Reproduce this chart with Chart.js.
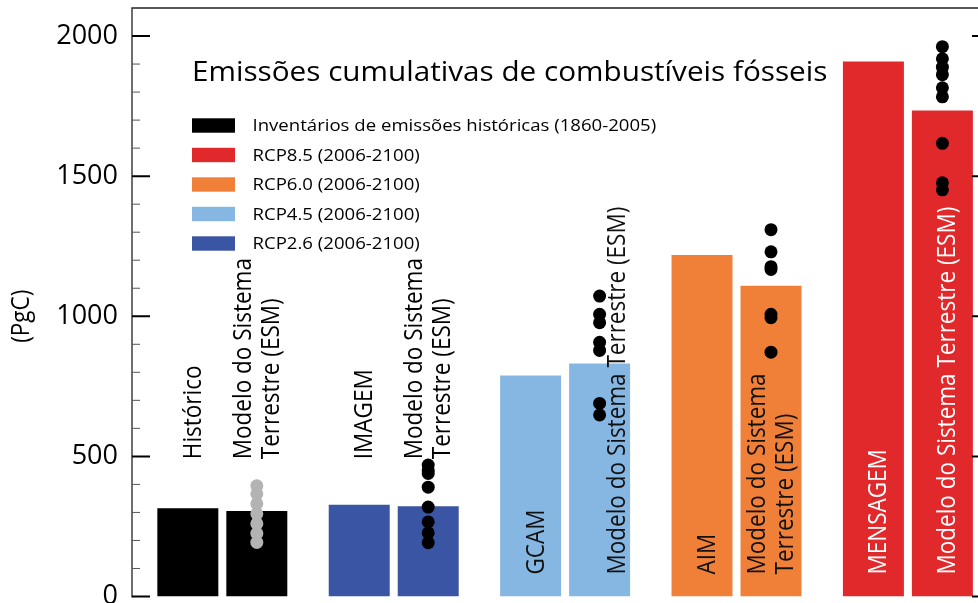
<!DOCTYPE html>
<html lang="pt">
<head>
<meta charset="utf-8">
<title>Emissões cumulativas de combustíveis fósseis</title>
<script src="https://cdn.jsdelivr.net/npm/chart.js@4/dist/chart.umd.min.js"></script>
<style>
  html, body { margin: 0; padding: 0; background: #ffffff; overflow: hidden; }
  #wrap { position: relative; width: 1000px; height: 603px; }
</style>
</head>
<body>
<div id="wrap"><canvas id="chart"></canvas></div>
<script>
// ---- data (PgC) ----
const groups = ['Histórico', 'IMAGEM', 'GCAM', 'AIM', 'MENSAGEM'];
const esmLabel = 'Modelo do Sistema Terrestre (ESM)';
const scenarioTotals = [315, 327, 789, 1219, 1909];
const esmTotals = [305, 322, 831, 1109, 1734];

// individual Earth System Model results
const esmRunsHistorico = [395, 366, 331, 295, 260, 225, 193];
const esmRunsRcp26 = [469, 450, 439, 390, 319, 266, 227, 192];
const esmRunsRcp45 = [1072, 1007, 977, 907, 878, 689, 648];
const esmRunsRcp60 = [1309, 1230, 1177, 1167, 1007, 995, 872];
const esmRunsRcp85 = [1962, 1919, 1889, 1862, 1815, 1783, 1617, 1476, 1451];
const esmRuns = [esmRunsHistorico, esmRunsRcp26, esmRunsRcp45, esmRunsRcp60, esmRunsRcp85];

const legendLabels = [
  'Inventários de emissões históricas (1860-2005)',
  'RCP8.5 (2006-2100)',
  'RCP6.0 (2006-2100)',
  'RCP4.5 (2006-2100)',
  'RCP2.6 (2006-2100)'
];
const yMajorTicks = [0, 500, 1000, 1500, 2000];

// ---- styling ----
const COL_HIST = '#000000';
const COL_85 = '#E1282B';
const COL_60 = '#F08038';
const COL_45 = '#86B7E2';
const COL_26 = '#3A55A4';
const groupColors = [COL_HIST, COL_26, COL_45, COL_60, COL_85];
const legendColors = [COL_HIST, COL_85, COL_60, COL_45, COL_26];
const dotColors = ['#B3B3B3', '#000000', '#000000', '#000000', '#000000'];

const FONT = '"Open Sans", "Noto Sans", sans-serif';
const Y_MAX = 2100;
const MINOR_STEP = 100;
const X_MIN = -0.527, X_MAX = 4.479;
const CAT_PCT = 0.805, BAR_PCT = 0.884;
const LABEL_FLOOR = 490;       // value where labels above the short bars begin
const TEXT_SX = 1.12;          // horizontal stretch of annotation lettering

const twoLineEsm = ['Modelo do Sistema', 'Terrestre (ESM)'];
const barLabels = [
  { ds: 0, i: 0, lines: [groups[0]], place: 'above', color: '#000' },
  { ds: 1, i: 0, lines: twoLineEsm, place: 'above', color: '#000' },
  { ds: 0, i: 1, lines: [groups[1]], place: 'above', color: '#000' },
  { ds: 1, i: 1, lines: twoLineEsm, place: 'above', color: '#000' },
  { ds: 0, i: 2, lines: [groups[2]], place: 'inside', color: '#111' },
  { ds: 1, i: 2, lines: [esmLabel], place: 'inside', color: '#111', shift: 25 },
  { ds: 0, i: 3, lines: [groups[3]], place: 'inside', color: '#111' },
  { ds: 1, i: 3, lines: twoLineEsm, place: 'inside', color: '#111' },
  { ds: 0, i: 4, lines: [groups[4]], place: 'inside', color: '#fff' },
  { ds: 1, i: 4, lines: [esmLabel], place: 'inside', color: '#fff' }
];

// text drawn with a slight horizontal stretch, optionally rotated to read upward
function drawText(ctx, text, x, y, font, color, opts = {}) {
  ctx.save();
  ctx.translate(x, y);
  ctx.scale(opts.sx || TEXT_SX, 1);
  if (opts.rotate) ctx.rotate(-Math.PI / 2);
  ctx.font = font;
  ctx.fillStyle = color;
  ctx.textAlign = opts.align || 'left';
  ctx.textBaseline = opts.baseline || 'alphabetic';
  ctx.fillText(text, 0, 0);
  ctx.restore();
}

// frame with inward ticks on left and right, plus top edge
const frameTicks = {
  id: 'frameTicks',
  afterDraw(chart) {
    const { ctx, chartArea: a, scales: { y } } = chart;
    ctx.save();
    ctx.strokeStyle = '#222';
    ctx.lineWidth = 1.3;
    ctx.beginPath();
    ctx.moveTo(a.left, a.bottom + 1);
    ctx.lineTo(a.left, a.top);
    ctx.lineTo(a.right, a.top);
    ctx.lineTo(a.right, a.bottom + 1);
    ctx.stroke();
    for (let v = 0; v <= 2000; v += MINOR_STEP) {
      const major = yMajorTicks.includes(v);
      const len = major ? 18 : 8;
      const py = y.getPixelForValue(v);
      ctx.lineWidth = major ? 2 : 1;
      ctx.strokeStyle = major ? '#000' : '#555';
      ctx.beginPath();
      ctx.moveTo(a.left, py); ctx.lineTo(a.left + len, py);
      ctx.moveTo(a.right, py); ctx.lineTo(a.right - len, py);
      ctx.stroke();
    }
    ctx.restore();
  }
};

// title, legend, axis title and bar labels
const annotations = {
  id: 'annotations',
  afterDatasetsDraw(chart) {
    const { ctx, chartArea: a, scales: { y } } = chart;
    const labelFont = '22.5px ' + FONT;

    barLabels.forEach(l => {
      const bar = chart.getDatasetMeta(l.ds).data[l.i];
      const startY = l.place === 'above' ? y.getPixelForValue(LABEL_FLOOR) : a.bottom - 22;
      if (l.lines.length === 1) {
        drawText(ctx, l.lines[0], bar.x + (l.shift || 13), startY, labelFont, l.color, { rotate: true });
      } else {
        drawText(ctx, l.lines[0], bar.x - 6, startY, labelFont, l.color, { rotate: true });
        drawText(ctx, l.lines[1], bar.x + 22, startY, labelFont, l.color, { rotate: true });
      }
    });

    // title
    drawText(ctx, 'Emissões cumulativas de combustíveis fósseis', a.left + 60, 80.5,
      '28px ' + FONT, '#000', { sx: 1.06 });

    // legend
    legendLabels.forEach((txt, k) => {
      const cy = 125.5 + k * 29.5;
      ctx.fillStyle = legendColors[k];
      ctx.fillRect(a.left + 60, cy - 7.2, 43, 14.4);
      drawText(ctx, txt, a.left + 120.5, cy + 1, '16.6px ' + FONT, '#000', { baseline: 'middle' });
    });

    // y-axis title
    drawText(ctx, '(PgC)', 22, y.getPixelForValue(1000), '22.5px ' + FONT, '#000',
      { rotate: true, align: 'center', baseline: 'middle' });
  }
};

const datasets = [
  {
    type: 'bar',
    label: 'Cenário',
    data: scenarioTotals.map((v, i) => ({ x: i, y: v })),
    backgroundColor: groupColors,
    categoryPercentage: CAT_PCT,
    barPercentage: BAR_PCT,
    order: 2
  },
  {
    type: 'bar',
    label: 'ESM',
    data: esmTotals.map((v, i) => ({ x: i, y: v })),
    backgroundColor: groupColors,
    categoryPercentage: CAT_PCT,
    barPercentage: BAR_PCT,
    order: 2
  }
];
esmRuns.forEach((runs, i) => {
  datasets.push({
    type: 'scatter',
    label: 'ESM ' + groups[i],
    data: runs.map(v => ({ x: i + CAT_PCT / 4, y: v })),
    pointRadius: 6.5,
    pointBorderWidth: 0,
    pointBackgroundColor: dotColors[i],
    pointHoverRadius: 6.5,
    order: 0
  });
});

new Chart(document.getElementById('chart'), {
  type: 'bar',
  data: { datasets },
  options: {
    responsive: true,
    maintainAspectRatio: false,
    animation: false,
    events: [],
    layout: { padding: { left: 0, right: 10, top: 8, bottom: 0 } },
    plugins: { legend: { display: false }, tooltip: { enabled: false }, title: { display: false } },
    scales: {
      x: {
        type: 'linear',
        min: X_MIN,
        max: X_MAX,
        offset: false,
        display: false,
        afterBuildTicks: s => { s.ticks = groups.map((_, i) => ({ value: i })); }
      },
      y: {
        type: 'linear',
        min: 0,
        max: Y_MAX,
        grid: { display: false, drawTicks: false },
        border: { display: false },
        afterBuildTicks: s => { s.ticks = yMajorTicks.map(v => ({ value: v })); },
        ticks: {
          color: '#000',
          padding: 14,
          font: { family: FONT, size: 27 },
          callback: v => String(v)
        },
        afterFit: s => { s.width = 132; s.paddingTop = 0; s.paddingBottom = 0; }
      }
    }
  },
  plugins: [frameTicks, annotations]
});
</script>
</body>
</html>
